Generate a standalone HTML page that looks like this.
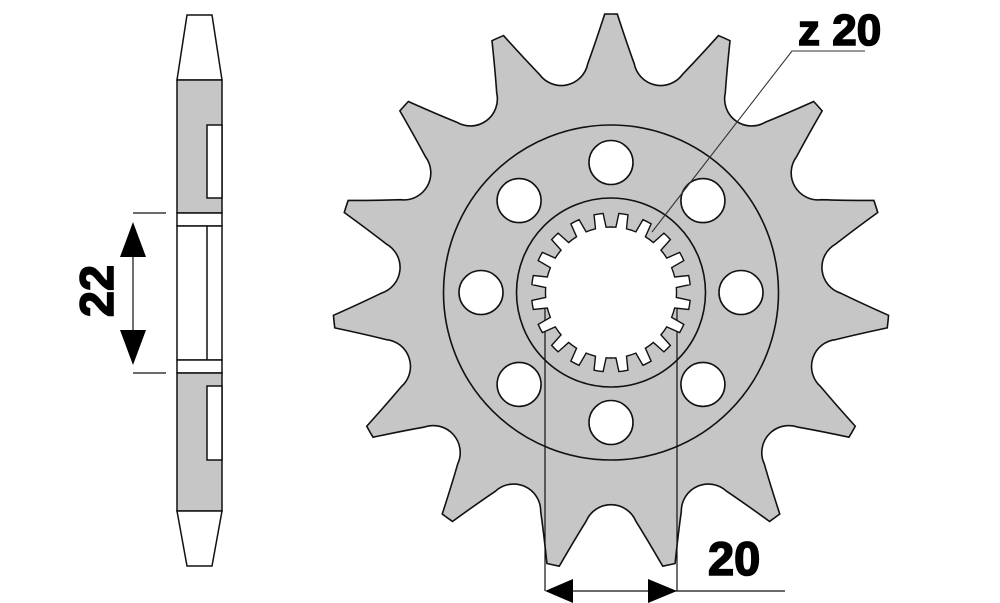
<!DOCTYPE html>
<html><head><meta charset="utf-8">
<style>
html,body{margin:0;padding:0;background:#fff;}
svg{display:block;}
text{font-family:"Liberation Sans",sans-serif;font-weight:bold;fill:#000;stroke:#000;stroke-width:1.6;}
</style></head>
<body>
<svg id="s" width="1000" height="603" viewBox="0 0 1000 603" xmlns="http://www.w3.org/2000/svg">
  <!-- side view -->
  <g stroke="#111" stroke-width="1.5">
    <polygon points="187,15 212,15 222,80 177,80" fill="#fff"/>
    <rect x="177" y="80" width="45" height="133" fill="#c6c6c6"/>
    <rect x="207" y="125" width="15" height="73" fill="#fff"/>
    <rect x="177" y="213" width="45" height="13" fill="#fff"/>
    <rect x="177" y="226" width="45" height="134" fill="#fff"/>
    <line x1="207" y1="226" x2="207" y2="360"/>
    <rect x="177" y="360" width="45" height="13" fill="#fff"/>
    <rect x="177" y="373" width="45" height="138" fill="#c6c6c6"/>
    <rect x="207" y="386" width="15" height="74" fill="#fff"/>
    <polygon points="177,511 222,511 212,566 187,566" fill="#fff"/>
  </g>
  <g stroke="#111" stroke-width="1.2">
    <line x1="133" y1="213" x2="166" y2="213"/>
    <line x1="133" y1="373" x2="166" y2="373"/>
    <line x1="133" y1="240" x2="133" y2="345"/>
  </g>
  <polygon points="133,222 120,257 146,257" fill="#000"/>
  <polygon points="133,365 120,330 146,330" fill="#000"/>
  <text x="0" y="0" font-size="47" text-anchor="middle" transform="translate(113,291) rotate(-90)">22</text>

  <!-- sprocket -->
  <path id="body" fill="#c6c6c6" stroke="#111" stroke-width="1.6" d=""/>
  <g fill="none" stroke="#111" stroke-width="1.6">
    <circle cx="611" cy="292.5" r="167.5"/>
    <circle cx="611" cy="292.5" r="94.5"/>
  </g>
  <g stroke="#111" stroke-width="1.2">
    <line x1="545" y1="300" x2="545" y2="591"/>
    <line x1="677" y1="300" x2="677" y2="591"/>
  </g>
  <g id="holes" fill="#fff" stroke="#111" stroke-width="1.6"></g>
  <path id="spline" fill="#fff" stroke="#111" stroke-width="1.4" d=""/>
  <polyline points="652,232 792,51 865,51" fill="none" stroke="#333" stroke-width="1.1"/>
  <text x="798" y="45" font-size="44">z 20</text>

  <line x1="560" y1="591" x2="785" y2="591" stroke="#111" stroke-width="1.3"/>
  <polygon points="545,591 573,579 573,603" fill="#000"/>
  <polygon points="677,591 648,579 648,603" fill="#000"/>
  <text x="708" y="575" font-size="47">20</text>
</svg>
<script>
(function(){
var cx=611,cy=292.5;
function P(r,a){a=a*Math.PI/180;return [(cx+r*Math.sin(a)).toFixed(2),(cy-r*Math.cos(a)).toFixed(2)];}
function s(p){return p[0]+","+p[1];}
var d="",R=278.5;
for(var k=0;k<15;k++){
  var t=k*24;
  var a1=P(R,t-1.3),a2=P(R,t+1.3);
  var c1=P(250,t+3.6),b=P(230,t+5.8);
  var c2=P(250,t+24-3.6),a3=P(R,t+24-1.3);
  var b2=P(230,t+18.2);
  if(k==0)d+="M"+s(a1);
  d+=" A"+R+","+R+" 0 0 1 "+s(a2);
  d+=" Q"+s(c1)+" "+s(b);
  d+=" A27,27 0 0 0 "+s(b2);
  d+=" Q"+s(c2)+" "+s(a3);
}
d+="Z";
document.getElementById("body").setAttribute("d",d);
var g=document.getElementById("holes");
for(var k=0;k<8;k++){
  var p=P(130,k*45);
  var c=document.createElementNS("http://www.w3.org/2000/svg","circle");
  c.setAttribute("cx",p[0]);c.setAttribute("cy",p[1]);c.setAttribute("r",22);
  g.appendChild(c);
}
var e="";
for(var k=0;k<20;k++){
  var f=k*18;
  var q1=P(79.5,f-5.7),q2=P(65.5,f-4.3),q3=P(65.5,f+4.3),q4=P(79.5,f+5.7);
  e+=(k==0?"M":" L")+s(q1)+" L"+s(q2)+" A65.5,65.5 0 0 1 "+s(q3)+" L"+s(q4);
  var n=P(79.5,f+18-5.7);
  e+=" A79.5,79.5 0 0 1 "+s(n);
}
e+="Z";
document.getElementById("spline").setAttribute("d",e);
})();
</script>
</body></html>
